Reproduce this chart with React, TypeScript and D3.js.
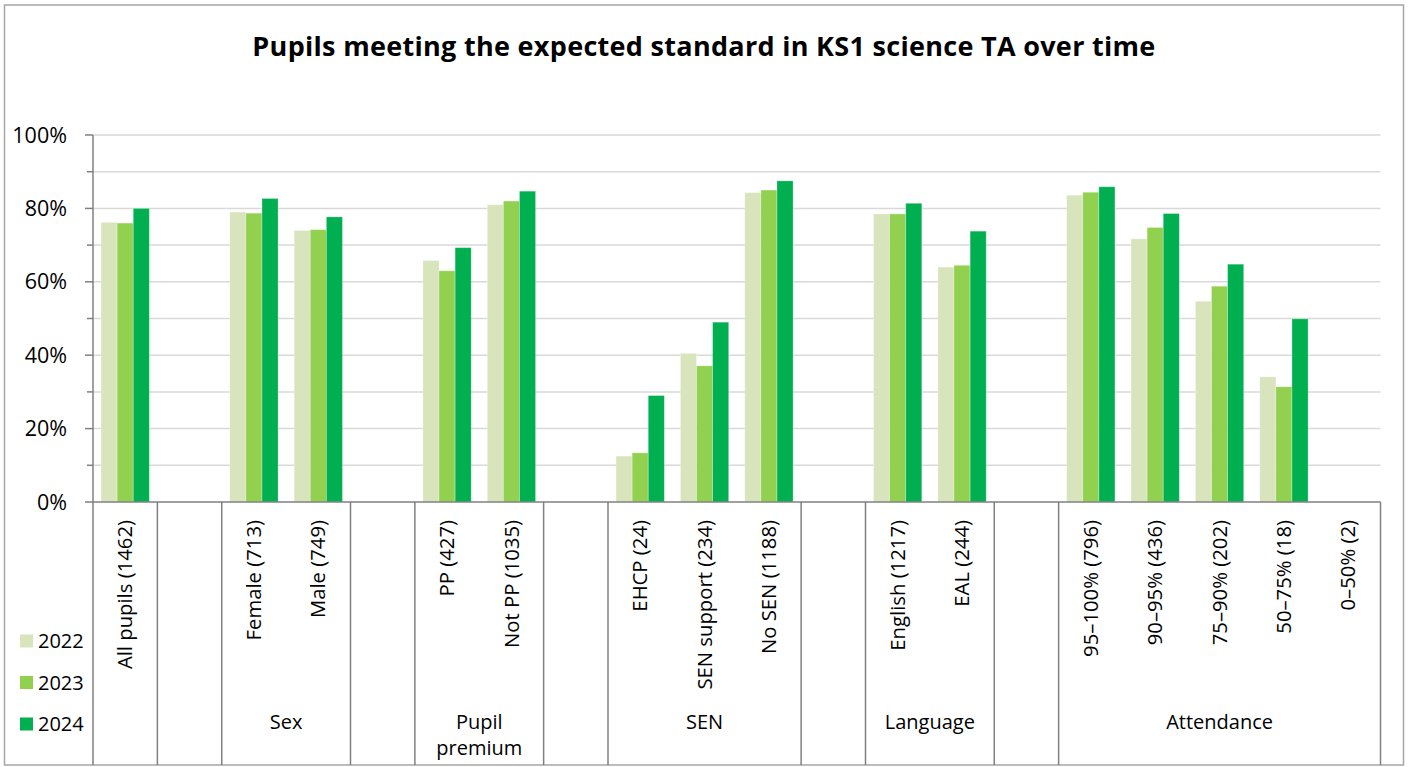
import React from "react";
import * as d3 from "d3";

const title = "Pupils meeting the expected standard in KS1 science TA over time";
const categories = [
  "All pupils (1462)", "", "Female (713)", "Male (749)", "", "PP (427)", "Not PP (1035)", "",
  "EHCP (24)", "SEN support (234)", "No SEN (1188)", "", "English (1217)", "EAL (244)", "",
  "95–100% (796)", "90–95% (436)", "75–90% (202)", "50–75% (18)", "0–50% (2)",
];
const groups = [
  { label: [""], start: 0, end: 0 },
  { label: [""], start: 1, end: 1 },
  { label: ["Sex"], start: 2, end: 3 },
  { label: [""], start: 4, end: 4 },
  { label: ["Pupil", "premium"], start: 5, end: 6 },
  { label: [""], start: 7, end: 7 },
  { label: ["SEN"], start: 8, end: 10 },
  { label: [""], start: 11, end: 11 },
  { label: ["Language"], start: 12, end: 13 },
  { label: [""], start: 14, end: 14 },
  { label: ["Attendance"], start: 15, end: 19 },
];
const seriesNames = ["2022", "2023", "2024"];
const seriesColors = ["#D8E4BC", "#92D050", "#00B050"];
const v2022 = [76.2, null, 79.0, 74.0, null, 65.8, 81.0, null, 12.5, 40.5, 84.3, null, 78.5, 64.0, null, 83.6, 71.7, 54.7, 34.1, null];
const v2023 = [76.0, null, 78.7, 74.2, null, 63.0, 82.0, null, 13.4, 37.1, 85.0, null, 78.5, 64.5, null, 84.4, 74.8, 58.8, 31.4, null];
const v2024 = [80.0, null, 82.7, 77.7, null, 69.3, 84.7, null, 29.0, 49.0, 87.5, null, 81.4, 73.8, null, 85.9, 78.6, 64.8, 49.9, null];
const seriesValues = [v2022, v2023, v2024];
const yMajorTicks = [0, 20, 40, 60, 80, 100];
const yMinorTicks = [10, 30, 50, 70, 90];

const W = 1411;
const H = 767;
const FONT = "'Segoe UI', 'Open Sans', 'Noto Sans', sans-serif";

export default function App() {
  const left = 93, right = 1380.5, top = 135, bottom = 502, axisBottom = 765;
  const x = d3.scaleBand<number>().domain(d3.range(categories.length)).range([left, right]).paddingInner(0).paddingOuter(0);
  const y = d3.scaleLinear().domain([0, 100]).range([bottom, top]);
  const bw = x.bandwidth();
  const barW = bw * 0.25;
  const barOffset = (bw - barW * 3) / 2;
  const boundaries = Array.from(new Set(groups.flatMap(g => [g.start, g.end + 1])));

  return (
    <svg width={W} height={H} style={{ position: "absolute", left: 0, top: 0, background: "#fff" }} fontFamily={FONT}>
      <rect x={4.5} y={5} width={1399} height={760} fill="#fff" stroke="#A6A6A6" strokeWidth={1.5} />
      <text x={704} y={56} textAnchor="middle" fontSize={27} fontWeight="bold" letterSpacing={0.3} fill="#000">{title}</text>

      {/* gridlines */}
      {[...yMajorTicks, ...yMinorTicks].filter(t => t > 0).map(t => (
        <line key={"g" + t} x1={left} x2={right} y1={y(t)} y2={y(t)} stroke="#D9D9D9" strokeWidth={1.5} />
      ))}

      {/* bars */}
      {seriesValues.map((vals, si) => (
        <g key={si}>
          {vals.map((v, ci) => v == null ? null : (
            <rect key={ci} x={(x(ci) as number) + barOffset + si * barW} y={y(v)} width={barW} height={bottom - y(v)}
              fill={seriesColors[si]} stroke="#fff" strokeOpacity={0.35} strokeWidth={0.8} />
          ))}
        </g>
      ))}

      {/* y axis */}
      <line x1={left} x2={left} y1={top} y2={bottom} stroke="#808080" strokeWidth={1.5} />
      {yMajorTicks.map(t => (
        <g key={"y" + t}>
          <line x1={left - 8} x2={left} y1={y(t)} y2={y(t)} stroke="#808080" strokeWidth={1.5} />
          <text x={67} y={y(t)} dy="0.35em" textAnchor="end" fontSize={21.5} fill="#000">{t}%</text>
        </g>
      ))}
      {yMinorTicks.map(t => (
        <line key={"m" + t} x1={left - 6} x2={left} y1={y(t)} y2={y(t)} stroke="#808080" strokeWidth={1.5} />
      ))}

      {/* x axis */}
      <line x1={left} x2={right} y1={bottom} y2={bottom} stroke="#808080" strokeWidth={1.5} />
      {boundaries.map(b => {
        const bx = b >= categories.length ? right : (x(b) as number);
        return <line key={"b" + b} x1={bx} x2={bx} y1={bottom} y2={axisBottom} stroke="#808080" strokeWidth={1.5} />;
      })}
      {categories.map((c, ci) => c === "" ? null : (
        <text key={"c" + ci} transform={`translate(${(x(ci) as number) + bw / 2},${520}) rotate(-90)`} dy="0.35em"
          textAnchor="end" fontSize={20.3} fill="#000">{c}</text>
      ))}
      {groups.map((g, gi) => {
        const cx = ((x(g.start) as number) + (x(g.end) as number) + bw) / 2;
        return (
          <text key={"gl" + gi} x={cx} y={722} textAnchor="middle" fontSize={20} fill="#000">
            {g.label.map((l, li) => (
              <tspan key={li} x={cx} y={722 + li * 26} dy="0.35em">{l}</tspan>
            ))}
          </text>
        );
      })}

      {/* legend */}
      {seriesNames.map((s, si) => (
        <g key={"l" + si} transform={`translate(20,${641 + si * 41.5})`}>
          <rect x={0} y={-6.5} width={13} height={13} fill={seriesColors[si]} />
          <text x={18} y={0} dy="0.35em" fontSize={20} fill="#000">{s}</text>
        </g>
      ))}
    </svg>
  );
}
